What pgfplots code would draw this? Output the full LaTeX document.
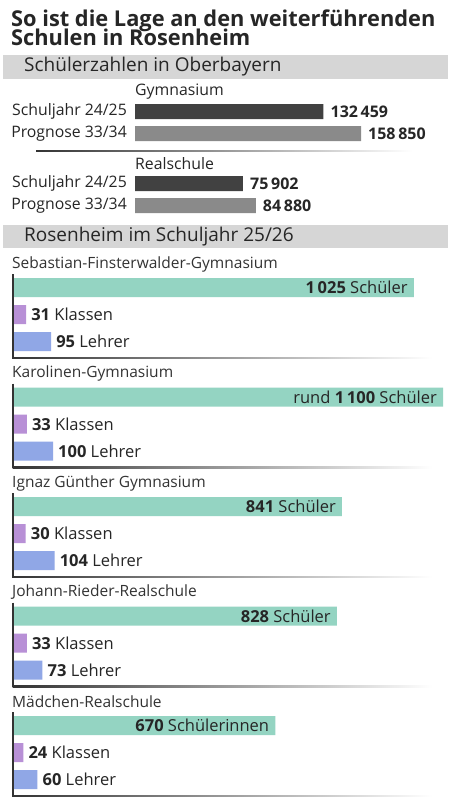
\documentclass[border=0pt]{standalone}
\usepackage{pgfplots}
\pgfplotsset{compat=1.18}
\usepackage{fontspec}
\setmainfont{Open Sans}
\definecolor{txt}{HTML}{262626}
\definecolor{nametxt}{HTML}{333333}
\definecolor{band}{HTML}{D6D6D6}
\definecolor{bdark}{HTML}{414141}
\definecolor{bgray}{HTML}{8A8A8A}
\definecolor{schueler}{HTML}{94D4C2}
\definecolor{klassen}{HTML}{B890D6}
\definecolor{lehrer}{HTML}{90A7E6}
\definecolor{frame}{HTML}{333333}
\begin{document}
\begin{tikzpicture}[x=1pt,y=1pt]
\useasboundingbox (0,0) rectangle (451,-800);
\fill[white] (0,0) rectangle (451,-800);
\fill[band] (3,-55) rectangle (448,-79);
\fill[band] (3,-225) rectangle (448,-248);
\node[anchor=base west, inner sep=0pt, text depth=1.5pt, font=\bfseries\fontsize{21.8}{21.8}\selectfont, text=txt] at (11,-27) {So ist die Lage an den weiterführenden};
\node[anchor=base west, inner sep=0pt, text height=15pt, font=\bfseries\fontsize{21.8}{21.8}\selectfont, text=txt] at (11,-46) {Schulen in Rosenheim};
\node[anchor=west, inner sep=0pt, font=\fontsize{19}{19}\selectfont, text=txt] at (24,-67) {Schülerzahlen in Oberbayern};
\node[anchor=west, inner sep=0pt, font=\fontsize{19}{19}\selectfont, text=txt] at (24,-236.5) {Rosenheim im Schuljahr 25/26};
% separator in upper part
\shade[left color=frame, right color=white] (36,-150.3) rectangle (412,-151.7);

\begin{axis}[at={(135pt,0pt)}, anchor=north west, scale only axis,
  width=226pt, height=800pt, xmin=0, xmax=158850, ymin=-800, ymax=0,
  clip=false, axis lines=left, axis line style={draw=none}, major tick length=0pt,
  xtick=\empty, ytick={-205.5,-183.5,-133.5,-111.5},
  yticklabels={Prognose 33/34, Schuljahr 24/25, Prognose 33/34, Schuljahr 24/25},
  yticklabel style={font=\fontsize{15.8}{15.8}\selectfont, text=txt, anchor=east, inner sep=0pt, xshift=-8pt},
  xbar, bar width=15pt, nodes near coords, point meta=explicit symbolic,
  every node near coord/.append style={font=\bfseries\fontsize{16}{16}\selectfont, text=txt, inner sep=0pt, anchor=west, xshift=7pt}]
\addplot[fill=bdark, draw=none, bar shift=0pt] coordinates {(132459,-111.5) [132\,459] (75902,-183.5) [75\,902]};
\addplot[fill=bgray, draw=none, bar shift=0pt] coordinates {(158850,-133.5) [158\,850] (84880,-205.5) [84\,880]};
\node[anchor=west, inner sep=0pt, font=\fontsize{15.8}{15.8}\selectfont, text=txt] at (axis cs:0,-92) {Gymnasium};
\node[anchor=west, inner sep=0pt, font=\fontsize{15.8}{15.8}\selectfont, text=txt] at (axis cs:0,-164) {Realschule};
\end{axis}

\begin{axis}[at={(14pt,0pt)}, anchor=north west, scale only axis,
  width=429pt, height=800pt, xmin=0, xmax=1100, ymin=-800, ymax=0,
  clip=false, hide axis, xbar, bar width=19pt, nodes near coords, point meta=explicit symbolic,
  every node near coord/.append style={font=\fontsize{16.5}{16.5}\selectfont, text=txt, inner sep=0pt}]
\addplot[fill=schueler, draw=none, bar shift=0pt, every node near coord/.append style={anchor=east, xshift=-6pt}] coordinates {
 (1025,-287.5) [{\textbf{1\,025} Schüler}]
 (1100,-397) [{rund \textbf{1\,100} Schüler}]
 (841,-506.5) [{\textbf{841} Schüler}]
 (828,-616) [{\textbf{828} Schüler}]
 (670,-725.5) [{\textbf{670} Schülerinnen}]
};
\addplot[fill=klassen, draw=none, bar shift=0pt, every node near coord/.append style={anchor=west, xshift=5pt}] coordinates {
 (31,-314.5) [{\textbf{31} Klassen}]
 (33,-424) [{\textbf{33} Klassen}]
 (30,-533.5) [{\textbf{30} Klassen}]
 (33,-643) [{\textbf{33} Klassen}]
 (24,-752.5) [{\textbf{24} Klassen}]
};
\addplot[fill=lehrer, draw=none, bar shift=0pt, every node near coord/.append style={anchor=west, xshift=5pt}] coordinates {
 (95,-341.5) [{\textbf{95} Lehrer}]
 (100,-451) [{\textbf{100} Lehrer}]
 (104,-560.5) [{\textbf{104} Lehrer}]
 (73,-670) [{\textbf{73} Lehrer}]
 (60,-779.5) [{\textbf{60} Lehrer}]
};
\end{axis}

% school names and frames
\foreach \k/\name in {0/Sebastian-Finsterwalder-Gymnasium, 1/Karolinen-Gymnasium, 2/Ignaz Günther Gymnasium, 3/Johann-Rieder-Realschule, 4/Mädchen-Realschule}{
  \pgfmathsetmacro{\off}{109.5*\k}
  \node[anchor=west, inner sep=0pt, font=\fontsize{15.5}{15.5}\selectfont, text=nametxt] at (12,-264-\off) {\name};
  \shade[left color=frame, right color=white] (12.5,-357.3-\off) rectangle (432,-358.7-\off);
  \draw[frame, line width=1.5pt] (13,-274-\off) -- (13,-358.7-\off);
}
\end{tikzpicture}
\end{document}
